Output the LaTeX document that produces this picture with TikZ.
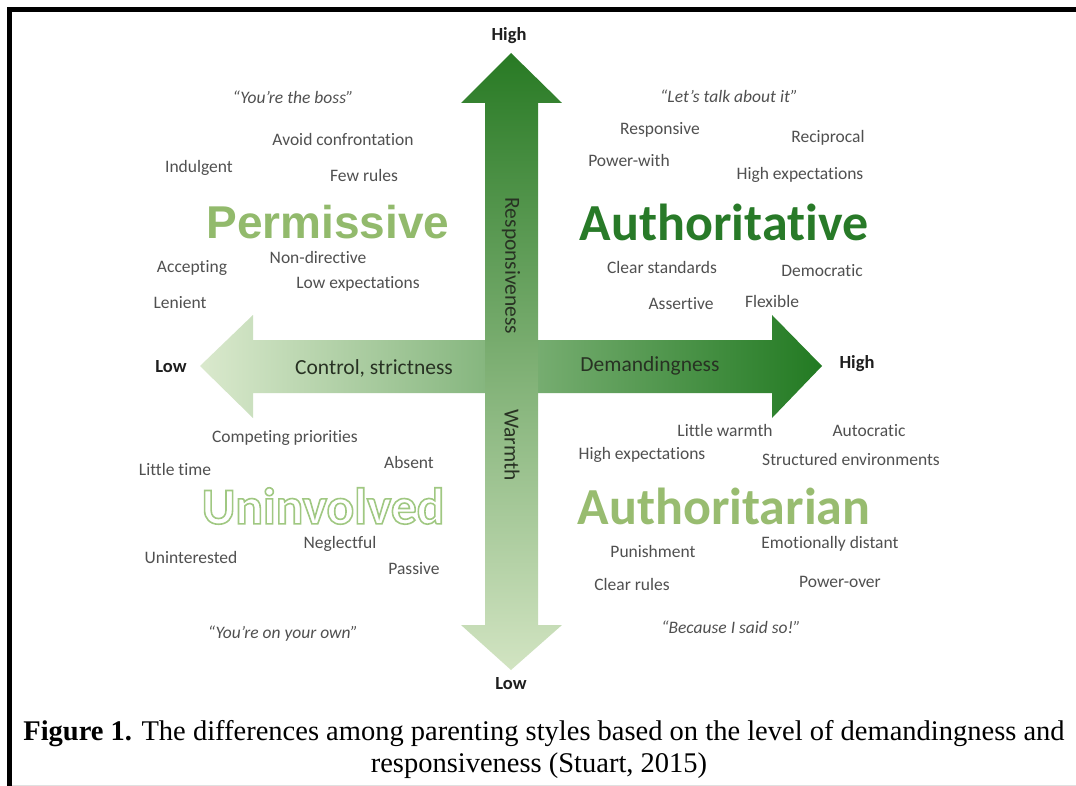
\documentclass[tikz,border=0pt]{standalone}
\usepackage{fontspec}
\setmainfont{Carlito}[Ligatures={TeX,CommonOff}]
\newfontfamily\arialfont{Liberation Sans}
\newfontfamily\timesfont{Liberation Serif}
\newcommand{\outlinetext}[1]{\special{pdf:literal direct 1 Tr 1.6 w}#1\special{pdf:literal direct 0 Tr}}
\definecolor{wordgray}{RGB}{80,80,80}
\definecolor{axisblack}{RGB}{30,30,30}
\definecolor{lbldark}{RGB}{40,50,35}
\definecolor{permgreen}{RGB}{146,186,108}
\definecolor{authgreen}{RGB}{40,122,40}
\definecolor{tariangreen}{RGB}{152,188,112}
\definecolor{uningreen}{RGB}{160,200,130}
\definecolor{vdark}{RGB}{40,122,36}
\definecolor{vmid}{RGB}{138,180,100}
\definecolor{vlight}{RGB}{210,228,194}
\definecolor{hlight}{RGB}{218,233,205}
\definecolor{hmid}{RGB}{150,190,114}
\definecolor{hdark}{RGB}{34,122,34}
\begin{document}
\begin{tikzpicture}[x=1pt,y=-1pt,
  word/.style={font=\fontsize{17.5}{20}\selectfont, text=wordgray, inner sep=0pt},
  quote/.style={font=\itshape\fontsize{17.5}{20}\selectfont, text=wordgray, inner sep=0pt},
  axislbl/.style={font=\bfseries\fontsize{18.5}{20}\selectfont, text=axisblack, inner sep=0pt},
  arrowlbl/.style={font=\fontsize{21.5}{24}\selectfont, text=lbldark, inner sep=0pt},
  title/.style={font=\bfseries\fontsize{52}{56}\selectfont, inner sep=0pt},
  captxt/.style={font=\timesfont\fontsize{28.5}{32}\selectfont, text=black, inner sep=0pt, anchor=base}]
\useasboundingbox (0,0) rectangle (1076,786);
\fill[white] (0,0) rectangle (1076,786);
% frame
\draw[line width=5pt] (9.5,786) -- (9.5,10) -- (1076,10);
\draw[line width=0.6pt, black!12] (12,785.5) -- (1076,785.5);

% horizontal arrow
\shade[left color=hlight, middle color=hmid, right color=hdark]
  (200,366) -- (253,315) -- (253,340) -- (772,340) -- (772,315) -- (822,366)
  -- (772,418) -- (772,393) -- (253,393) -- (253,418) -- cycle;
% vertical arrow
\shade[top color=vdark, middle color=vmid, bottom color=vlight]
  (511,53) -- (562,103) -- (538,103) -- (538,625) -- (562,625) -- (511,670)
  -- (461,625) -- (485,625) -- (485,103) -- (461,103) -- cycle;

% axis labels
\node[axislbl] (hightop) at (509,36) {High};
\node[axislbl] (lowleft) at (171,367) {Low};
\node[axislbl] (highright) at (857,364) {High};
\node[axislbl] (lowbottom) at (511,684) {Low};
\node[arrowlbl, rotate=-90] (resp) at (511,266) {Responsiveness};
\node[arrowlbl, rotate=-90] (warm) at (512,445) {Warmth};
\node[arrowlbl] (control) at (374,368) {Control, strictness};
\node[arrowlbl] (demand) at (650,366) {Demandingness};

% titles
\node[title, font=\arialfont\bfseries\fontsize{46}{50}\selectfont, text=permgreen] (perm) at (328,222) {Permissive};
\node[title, text=authgreen] (auth) at (724,222) {Authoritative};
\node[title, text=tariangreen] (tarian) at (724,506) {Authoritarian};
\node[title, font=\bfseries\fontsize{51.5}{54}\selectfont, text=uningreen] (uninv) at (323,506) {\outlinetext{Uninvolved}};

% permissive words
\node[quote] (q1) at (293,97) {“You’re the boss”};
\node[word] (p1) at (343,139) {Avoid confrontation};
\node[word] (p2) at (199,168) {Indulgent};
\node[word] (p3) at (364,175) {Few rules};
\node[word] (p4) at (318,257) {Non-directive};
\node[word] (p5) at (192,268) {Accepting};
\node[word] (p6) at (358,284) {Low expectations};
\node[word] (p7) at (180,303) {Lenient};

% authoritative words
\node[quote] (q2) at (729,96) {“Let’s talk about it”};
\node[word] (a1) at (660,130) {Responsive};
\node[word] (a2) at (828,138) {Reciprocal};
\node[word] (a3) at (629,160) {Power-with};
\node[word] (a4) at (800,175) {High expectations};
\node[word] (a5) at (662,267) {Clear standards};
\node[word] (a6) at (822,271) {Democratic};
\node[word] (a7) at (681,304) {Assertive};
\node[word] (a8) at (772,301) {Flexible};

% uninvolved words
\node[word] (u1) at (285,438) {Competing priorities};
\node[word] (u2) at (175,469) {Little time};
\node[word] (u3) at (409,462) {Absent};
\node[word] (u4) at (340,544) {Neglectful};
\node[word] (u5) at (191,557) {Uninterested};
\node[word] (u6) at (414,569) {Passive};
\node[quote] (q3) at (283,634) {“You’re on your own”};

% authoritarian words
\node[word] (t1) at (725,430) {Little warmth};
\node[word] (t2) at (869,431) {Autocratic};
\node[word] (t3) at (642,455) {High expectations};
\node[word] (t4) at (851,459) {Structured environments};
\node[word] (t5) at (653,551) {Punishment};
\node[word] (t6) at (830,544) {Emotionally distant};
\node[word] (t7) at (632,584) {Clear rules};
\node[word] (t8) at (840,582) {Power-over};
\node[quote] (q4) at (731,627) {“Because I said so!”};

% caption
\node[captxt] (cap1) at (544,740) {\textbf{Figure 1.} The differences among parenting styles based on the level of demandingness and};
\node[captxt] (cap2) at (539,772) {responsiveness (Stuart, 2015)};
\end{tikzpicture}
\end{document}
